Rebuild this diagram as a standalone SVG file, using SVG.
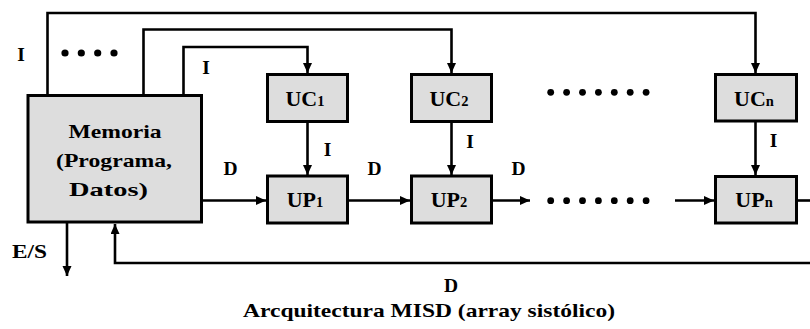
<svg xmlns="http://www.w3.org/2000/svg" width="810" height="329" viewBox="0 0 810 329" font-family="'Liberation Serif', 'Times New Roman', Times, serif">
  <defs>
    <marker id="arrow" markerUnits="userSpaceOnUse" markerWidth="11" markerHeight="10" refX="10" refY="4.5" orient="auto">
      <path d="M0,0 L10,4.5 L0,9 z" fill="#000"/>
    </marker>
    <style>
      .box { fill: #dddddd; stroke: #000; stroke-width: 3; }
      .wire { fill: none; stroke: #000; stroke-width: 2.6; }
      .arr { marker-end: url(#arrow); }
      text { font-weight: bold; fill: #000; }
      .lbl { font-size: 19.5px; text-anchor: middle; }
      .unit { font-size: 22px; text-anchor: middle; }
      .sub { font-size: 14.5px; }
      .dot { fill: #000; }
    </style>
  </defs>
  <rect width="810" height="329" fill="#fff"/>

  <!-- connectors -->
  <g id="connectors">
    <path class="wire arr" d="M47.5,95 V13 H755.5 V73"/>
    <path class="wire arr" d="M143.5,95 V29.5 H451.5 V73"/>
    <path class="wire arr" d="M183.5,95 V47 H307.5 V73"/>
    <path class="wire arr" d="M307.5,122 V175"/>
    <path class="wire arr" d="M451.5,122 V175"/>
    <path class="wire arr" d="M755.5,122 V175"/>
    <path class="wire arr" d="M202,200.5 H266"/>
    <path class="wire arr" d="M349,200.5 H410"/>
    <path class="wire arr" d="M493,200.5 H530"/>
    <path class="wire arr" d="M675,200.5 H714"/>
    <path class="wire" d="M798,200.5 H810"/>
    <path class="wire arr" d="M810,263 H115 V224"/>
    <path class="wire arr" d="M67,223 V276"/>
  </g>

  <!-- memory -->
  <g id="memoria">
    <rect class="box" x="28" y="95.5" width="173.5" height="126.5"/>
    <text class="lbl" x="115" y="138" textLength="93" lengthAdjust="spacingAndGlyphs">Memoria</text>
    <text class="lbl" x="114" y="167" textLength="116" lengthAdjust="spacingAndGlyphs">(Programa,</text>
    <text class="lbl" x="108.5" y="196" textLength="79" lengthAdjust="spacingAndGlyphs">Datos)</text>
  </g>

  <!-- control units -->
  <g id="uc1">
    <rect class="box" x="267.5" y="74.5" width="80" height="47"/>
    <text class="unit" x="305" y="106">UC<tspan class="sub">1</tspan></text>
  </g>
  <g id="uc2">
    <rect class="box" x="411.5" y="74.5" width="80" height="47"/>
    <text class="unit" x="449" y="106">UC<tspan class="sub">2</tspan></text>
  </g>
  <g id="ucn">
    <rect class="box" x="715.5" y="74.5" width="81" height="46.5"/>
    <text class="unit" x="754" y="106">UC<tspan class="sub">n</tspan></text>
  </g>

  <!-- processing units -->
  <g id="up1">
    <rect class="box" x="267.5" y="176" width="80" height="47"/>
    <text class="unit" x="305" y="206.5">UP<tspan class="sub">1</tspan></text>
  </g>
  <g id="up2">
    <rect class="box" x="411.5" y="176" width="80" height="47"/>
    <text class="unit" x="449" y="206.5">UP<tspan class="sub">2</tspan></text>
  </g>
  <g id="upn">
    <rect class="box" x="715.5" y="176.5" width="81" height="46.5"/>
    <text class="unit" x="754" y="206.5">UP<tspan class="sub">n</tspan></text>
  </g>

  <!-- ellipsis dots -->
  <g id="dots">
    <circle class="dot" cx="65" cy="53" r="3.6"/>
    <circle class="dot" cx="81.3" cy="53" r="3.6"/>
    <circle class="dot" cx="97.7" cy="53" r="3.6"/>
    <circle class="dot" cx="114" cy="53" r="3.6"/>

    <circle class="dot" cx="550.7" cy="92.3" r="3.4"/>
    <circle class="dot" cx="566.6" cy="92.3" r="3.4"/>
    <circle class="dot" cx="582.5" cy="92.3" r="3.4"/>
    <circle class="dot" cx="598.4" cy="92.3" r="3.4"/>
    <circle class="dot" cx="614.3" cy="92.3" r="3.4"/>
    <circle class="dot" cx="630.2" cy="92.3" r="3.4"/>
    <circle class="dot" cx="646.1" cy="92.3" r="3.4"/>

    <circle class="dot" cx="550.7" cy="200.7" r="3.4"/>
    <circle class="dot" cx="566.6" cy="200.7" r="3.4"/>
    <circle class="dot" cx="582.5" cy="200.7" r="3.4"/>
    <circle class="dot" cx="598.4" cy="200.7" r="3.4"/>
    <circle class="dot" cx="614.3" cy="200.7" r="3.4"/>
    <circle class="dot" cx="630.2" cy="200.7" r="3.4"/>
    <circle class="dot" cx="646.1" cy="200.7" r="3.4"/>
  </g>

  <!-- connector labels -->
  <g id="labels">
    <text class="lbl" x="21" y="61">I</text>
    <text class="lbl" x="206" y="74">I</text>
    <text class="lbl" x="327.5" y="156">I</text>
    <text class="lbl" x="470" y="148">I</text>
    <text class="lbl" x="773.5" y="147">I</text>
    <text class="lbl" x="230.5" y="175">D</text>
    <text class="lbl" x="374.5" y="175">D</text>
    <text class="lbl" x="518.5" y="175">D</text>
    <text class="lbl" x="451" y="292">D</text>
    <text class="lbl" x="29.5" y="258" textLength="35" lengthAdjust="spacingAndGlyphs">E/S</text>
  </g>

  <text id="caption" class="lbl" x="429" y="317" textLength="372" lengthAdjust="spacingAndGlyphs">Arcquitectura MISD (array sistólico)</text>
</svg>
